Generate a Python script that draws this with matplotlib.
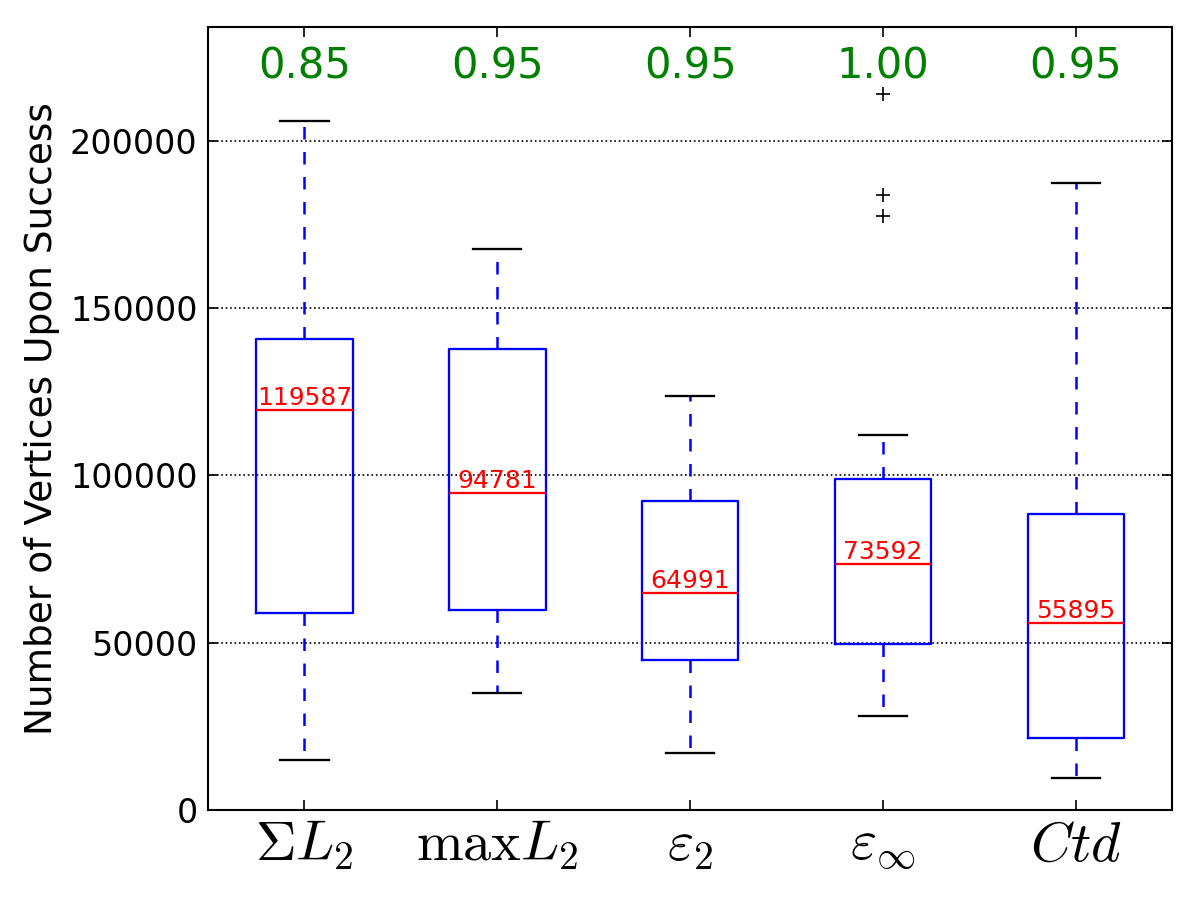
import matplotlib
matplotlib.use("Agg")
import matplotlib.pyplot as plt
import matplotlib.transforms as mtransforms

labels = [r'$\Sigma L_2$', r'$\max L_2$', r'$\varepsilon_2$', r'$\varepsilon_\infty$', r'$Ctd$']
success = ['0.85', '0.95', '0.95', '1.00', '0.95']
whislo = [14900, 34900, 17000, 28100, 9600]
q1 = [58800, 59700, 44800, 49600, 21500]
med = [119587, 94781, 64991, 73592, 55895]
q3 = [140900, 137900, 92200, 98800, 88400]
whishi = [206000, 167800, 123600, 112200, 187500]
fliers = [[], [], [], [214000, 183900, 177600], []]

plt.rcParams['mathtext.fontset'] = 'cm'
plt.rcParams['font.family'] = 'DejaVu Sans'

stats = []
for i in range(len(labels)):
    stats.append(dict(med=med[i], q1=q1[i], q3=q3[i], whislo=whislo[i],
                      whishi=whishi[i], fliers=fliers[i], label=labels[i]))

fig = plt.figure(figsize=(8, 6), dpi=150)
ax = fig.add_axes([0.1733, 0.1, 0.8037, 0.87])

ax.bxp(stats, widths=0.5, capwidths=0.25,
       boxprops=dict(color='blue', lw=1.1),
       whiskerprops=dict(color='blue', lw=1.2, linestyle=(0, (5, 5))),
       capprops=dict(color='black', lw=1.1),
       medianprops=dict(color='red', lw=1.1),
       flierprops=dict(marker='+', markeredgecolor='black', markersize=7,
                       markeredgewidth=0.8, linestyle='none'))

ax.set_xlim(0.5, 5.5)
ax.set_ylim(0, 234000)
ax.set_yticks([0, 50000, 100000, 150000, 200000])
ax.yaxis.grid(True, linestyle=':', color='black', lw=0.8)
ax.set_axisbelow(True)
ax.tick_params(direction='in', top=True, right=True, length=5)
ax.tick_params(axis='y', labelsize=16, pad=5)
ax.tick_params(axis='x', labelsize=27, pad=4)
for s in ax.spines.values():
    s.set_linewidth(1.0)
ax.set_ylabel('Number of Vertices Upon Success', fontsize=18, labelpad=5)

trans = mtransforms.blended_transform_factory(ax.transData, ax.transAxes)
for i in range(len(labels)):
    ax.text(i + 1, 0.949, success[i], transform=trans, ha='center', va='center',
            color='green', fontsize=20)
    ax.text(i + 1, med[i], str(med[i]), ha='center', va='bottom', color='red', fontsize=12)

fig.savefig('out.png', dpi=150)
